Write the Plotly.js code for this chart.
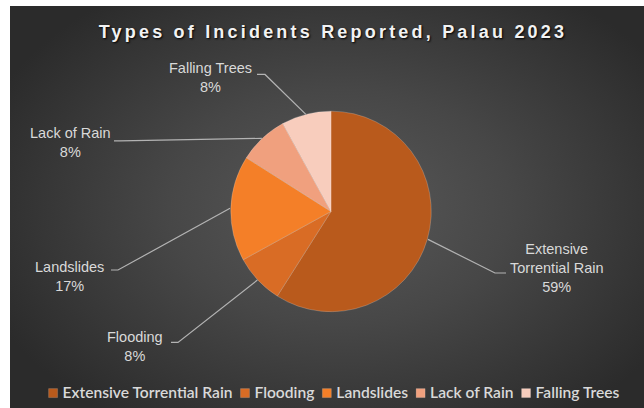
<!DOCTYPE html>
<html>
<head>
<meta charset="utf-8">
<script src="https://cdn.plot.ly/plotly-3.0.1.min.js"></script>
<style>
  html, body { margin: 0; padding: 0; background: #ffffff; }
  #wrap { position: relative; width: 644px; height: 408px; overflow: hidden; }
  #bg { position: absolute; left: 10px; top: 6px; width: 634px; height: 402px;
        background: radial-gradient(ellipse 60% 65% at 52% 50%, #595959 0%, #474747 45%, #2b2b2b 100%); }
  #chart { position: absolute; left: 0; top: 0; width: 644px; height: 408px; }
</style>
</head>
<body>
<div id="wrap"><div id="bg"></div><div id="chart"></div></div>
<script>
const categories = ["Extensive Torrential Rain", "Flooding", "Landslides", "Lack of Rain", "Falling Trees"];
const values = [59, 8, 17, 8, 8];
const colors = ["#b95a1c", "#d96c25", "#f47f28", "#f0a07e", "#f8cdbd"];

const W = 644, H = 408;
const cx = 331, cy = 213, R = 101;

// label layout: text centre, elbow point, stub end (pixels)
const labelLayout = [
  {tx: 557, ty: 270, elbow: [495, 275], stub: [506, 275], lines: ["Extensive", "Torrential Rain"]},
  {tx: 135, ty: 349, elbow: [178, 345], stub: [171, 345], lines: ["Flooding"]},
  {tx: 69,  ty: 279, elbow: [118, 272], stub: [111, 272], lines: ["Landslides"]},
  {tx: 70,  ty: 144, elbow: [120, 142], stub: [114, 142], lines: ["Lack of Rain"]},
  {tx: 210, ty: 78,  elbow: [265, 75],  stub: [257, 75],  lines: ["Falling Trees"]}
];

const total = values.reduce((a, b) => a + b, 0);
const px = x => x / W, py = y => 1 - y / H;

const shapes = [];
const annotations = [];
let cum = 0;
values.forEach((v, i) => {
  const mid = (cum + v / 2) / total * 2 * Math.PI;
  cum += v;
  const ex = cx + R * Math.sin(mid), ey = cy - R * Math.cos(mid);
  const L = labelLayout[i];
  shapes.push({
    type: "path", xref: "paper", yref: "paper",
    path: `M ${px(ex)},${py(ey)} L ${px(L.elbow[0])},${py(L.elbow[1])} L ${px(L.stub[0])},${py(L.stub[1])}`,
    line: {color: "#b3b3b3", width: 1.2}
  });
  const pct = Math.round(v / total * 100) + "%";
  annotations.push({
    xref: "paper", yref: "paper", x: px(L.tx), y: py(L.ty),
    xanchor: "center", yanchor: "middle", showarrow: false,
    text: L.lines.concat([pct]).join("<br>"),
    align: "center",
    font: {family: "Liberation Sans, Arial, sans-serif", size: 14.5, color: "#d9d9d9"}
  });
});

const data = [{
  type: "pie",
  labels: categories,
  values: values,
  sort: false,
  direction: "clockwise",
  rotation: 0,
  textinfo: "none",
  hoverinfo: "label+percent",
  marker: {colors: colors, line: {color: "rgba(255,255,255,0.25)", width: 0.8}},
  domain: {x: [(cx - R) / W, (cx + R) / W], y: [1 - (cy + R) / H, 1 - (cy - R) / H]}
}];

const layout = {
  width: W, height: H,
  margin: {l: 0, r: 0, t: 0, b: 0},
  paper_bgcolor: "rgba(0,0,0,0)",
  plot_bgcolor: "rgba(0,0,0,0)",
  title: {
    text: "<b>Types of Incidents Reported, Palau 2023</b>",
    x: 0.517, xanchor: "center", y: 1 - 32 / H, yanchor: "middle",
    font: {family: "Liberation Sans, Arial, sans-serif", size: 18, color: "#f2f2f2", shadow: "1px 1px 2px #000"}
  },
  showlegend: true,
  legend: {
    orientation: "h", x: 0.52, xanchor: "center", y: 1 - 396 / H, yanchor: "middle",
    font: {family: "Lato, sans-serif", size: 12, color: "#d9d9d9", weight: 600},
    itemwidth: 30, traceorder: "normal", bgcolor: "rgba(0,0,0,0)"
  },
  shapes: shapes,
  annotations: annotations
};

Plotly.newPlot("chart", data, layout, {displayModeBar: false, staticPlot: true}).then(() => {
  document.querySelectorAll(".gtitle").forEach(t => t.style.letterSpacing = "3.2px");
  // compact legend: small squares, tight gaps (Excel-style)
  document.querySelectorAll(".legend .scrollbox").forEach(s => s.removeAttribute("clip-path"));
  const items = Array.from(document.querySelectorAll(".legend .traces"));
  if (!items.length) return;
  const sq = 9, gapSym = 5, gapItem = 8;
  items.forEach(it => {
    const t = it.querySelector("text.legendtext");
    if (t) t.style.fontSize = "15.6px";
  });
  const widths = items.map(it => {
    const t = it.querySelector("text.legendtext");
    return t ? t.getComputedTextLength() : 0;
  });
  const totalW = widths.reduce((a, w) => a + sq + gapSym + w, 0) + gapItem * (items.length - 1);
  const parent = items[0].parentNode;
  const ctm = parent.getScreenCTM();
  const chartRect = document.getElementById("chart").getBoundingClientRect();
  const absStart = 334 - totalW / 2 + chartRect.left;
  let x = absStart - ctm.e;
  const yAttr = (items[0].getAttribute("transform").match(/translate\(\s*[-\d.]+[ ,]+([-\d.]+)/) || [0, 0])[1];
  items.forEach((it, i) => {
    it.setAttribute("transform", `translate(${x},${yAttr})`);
    const p = it.querySelector(".legendpoints path");
    if (p) p.setAttribute("transform", `translate(${sq / 2},0) scale(${sq / 12})`);
    const t = it.querySelector("text.legendtext");
    if (t) t.setAttribute("x", sq + gapSym);
    x += sq + gapSym + widths[i] + gapItem;
  });
});
</script>
</body>
</html>
